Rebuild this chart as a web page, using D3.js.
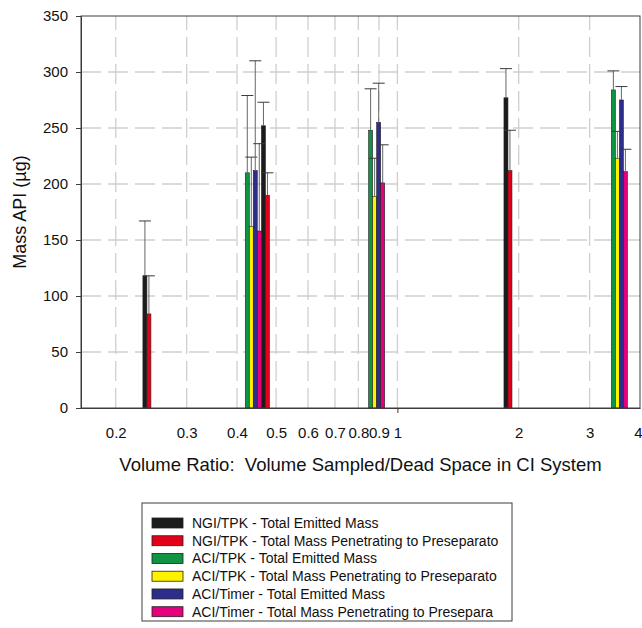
<!DOCTYPE html>
<html>
<head>
<meta charset="utf-8">
<script src="https://cdn.jsdelivr.net/npm/d3@7"></script>
<style>
  html, body { margin: 0; padding: 0; background: #fff; }
  svg { display: block; font-family: "Liberation Sans", Arial, sans-serif; }
</style>
</head>
<body>
<svg id="chart" width="642" height="628"></svg>
<script>
// Impactor setups, each measured at three volume ratios
const setups = ["NGI/TPK", "ACI/TPK", "ACI/Timer"];
const volumeRatio = {
  "NGI/TPK":   [0.239, 0.4705, 1.881],
  "ACI/TPK":   [0.429, 0.868, 3.475],
  "ACI/Timer": [0.449, 0.909, 3.638]
};

// Mass API (µg): total emitted and mass penetrating to the preseparator
const emitted = {
  "NGI/TPK":   [118, 252, 277],
  "ACI/TPK":   [210, 248, 284],
  "ACI/Timer": [212, 255, 275]
};
const emittedErr = {
  "NGI/TPK":   [49, 21, 26],
  "ACI/TPK":   [69, 37, 17],
  "ACI/Timer": [98, 35, 12]
};
const penetrating = {
  "NGI/TPK":   [84, 190, 212],
  "ACI/TPK":   [162, 189, 223],
  "ACI/Timer": [158, 201, 211]
};
const penetratingErr = {
  "NGI/TPK":   [34, 20, 36],
  "ACI/TPK":   [62, 34, 24],
  "ACI/Timer": [78, 34, 20]
};

const seriesLabels = [
  "NGI/TPK - Total Emitted Mass",
  "NGI/TPK - Total Mass Penetrating to Preseparato",
  "ACI/TPK - Total Emitted Mass",
  "ACI/TPK - Total Mass Penetrating to Preseparato",
  "ACI/Timer - Total Emitted Mass",
  "ACI/Timer - Total Mass Penetrating to Presepara"
];
const seriesColors = ["#1c1c1c", "#e2001a", "#0f9444", "#fff200", "#2e2d8c", "#e5007d"];

const xTicks = [0.2, 0.3, 0.4, 0.5, 0.6, 0.7, 0.8, 0.9, 1, 2, 3, 4];
const yTicks = [0, 50, 100, 150, 200, 250, 300, 350];

const svg = d3.select("#chart");
const plot = { left: 81, right: 640, top: 16, bottom: 408 };

const x = d3.scaleLog().domain([0.164, 4]).range([plot.left, plot.right]);
const y = d3.scaleLinear().domain([0, 350]).range([plot.bottom, plot.top]);

const gridColor = "#cfcfcf";

// dashed grid
svg.append("g").selectAll("line").data(yTicks.filter(d => d > 0 && d < 350)).join("line")
  .attr("x1", plot.left).attr("x2", plot.right)
  .attr("y1", d => y(d)).attr("y2", d => y(d))
  .attr("stroke", gridColor).attr("stroke-width", 1.3)
  .attr("stroke-dasharray", "20,7");

svg.append("g").selectAll("line").data(xTicks.filter(d => d < 4)).join("line")
  .attr("x1", d => x(d)).attr("x2", d => x(d))
  .attr("y1", plot.bottom).attr("y2", plot.top)
  .attr("stroke", gridColor).attr("stroke-width", 1.3)
  .attr("stroke-dasharray", "20,7");

// bars: each setup draws a pair (emitted | penetrating) centred on its volume ratio
const barW = 4;
const bars = [];
setups.forEach((s, si) => {
  volumeRatio[s].forEach((v, i) => {
    bars.push({ v, offset: -1, value: emitted[s][i], err: emittedErr[s][i], color: seriesColors[si * 2] });
    bars.push({ v, offset: 0, value: penetrating[s][i], err: penetratingErr[s][i], color: seriesColors[si * 2 + 1] });
  });
});

const gb = svg.append("g");
gb.selectAll("rect").data(bars).join("rect")
  .attr("x", d => x(d.v) + d.offset * barW)
  .attr("y", d => y(d.value))
  .attr("width", barW)
  .attr("height", d => y(0) - y(d.value))
  .attr("fill", d => d.color)
  .attr("stroke", "#222").attr("stroke-width", 0.6);

// positive error bars
const ge = svg.append("g").attr("stroke", "#3a3a3a").attr("stroke-width", 1);
bars.forEach(d => {
  const cx = x(d.v) + d.offset * barW + barW / 2;
  ge.append("line").attr("x1", cx).attr("x2", cx)
    .attr("y1", y(d.value)).attr("y2", y(d.value + d.err)).attr("stroke", "#666");
  ge.append("line").attr("x1", cx - 6).attr("x2", cx + 6)
    .attr("y1", y(d.value + d.err)).attr("y2", y(d.value + d.err));
});

// frame and axes
const axisColor = "#3c3c3c";
svg.append("rect")
  .attr("x", plot.left).attr("y", plot.top)
  .attr("width", plot.right - plot.left).attr("height", plot.bottom - plot.top)
  .attr("fill", "none").attr("stroke", axisColor).attr("stroke-width", 1);

const yAxis = svg.append("g").attr("transform", `translate(${plot.left},0)`)
  .call(d3.axisLeft(y).tickValues(yTicks).tickSize(5).tickPadding(8));
yAxis.select(".domain").attr("stroke", axisColor);
yAxis.selectAll(".tick line").attr("stroke", axisColor);
yAxis.selectAll(".tick text").attr("font-size", 15).attr("fill", "#111")
  .attr("font-family", "Liberation Sans, Arial, sans-serif");

const xAxis = svg.append("g").attr("transform", `translate(0,${plot.bottom})`)
  .call(d3.axisBottom(x).tickValues(xTicks).tickFormat(d3.format("~g")).tickSize(0).tickPadding(19));
xAxis.select(".domain").attr("stroke", axisColor);
xAxis.selectAll(".tick text").attr("font-size", 15).attr("fill", "#111")
  .attr("font-family", "Liberation Sans, Arial, sans-serif");
// the last label sits against the right edge of the page
xAxis.selectAll(".tick text").filter(d => d === 4).attr("text-anchor", "end").attr("x", 2);
// decade tick
xAxis.selectAll(".tick").filter(d => d === 1).append("line")
  .attr("y1", 0).attr("y2", 5).attr("stroke", axisColor);

// axis titles
svg.append("text")
  .attr("x", (plot.left + plot.right) / 2).attr("y", 471)
  .attr("text-anchor", "middle").attr("font-size", 18.5).attr("fill", "#111")
  .attr("xml:space", "preserve")
  .text("Volume Ratio:  Volume Sampled/Dead Space in CI System");

svg.append("text")
  .attr("transform", `translate(26,${(plot.top + plot.bottom) / 2}) rotate(-90)`)
  .attr("text-anchor", "middle").attr("font-size", 18).attr("fill", "#111")
  .text("Mass API (µg)");

// legend
const lg = svg.append("g");
lg.append("rect").attr("x", 142).attr("y", 503).attr("width", 370).attr("height", 118)
  .attr("fill", "#fff").attr("stroke", axisColor).attr("stroke-width", 1);
const rowY = d3.scalePoint().domain(d3.range(seriesLabels.length)).range([523, 611.7]);
const rows = lg.selectAll("g.row").data(seriesLabels).join("g").attr("class", "row")
  .attr("transform", (d, i) => `translate(0,${rowY(i)})`);
rows.append("rect").attr("x", 152).attr("y", -5).attr("width", 31).attr("height", 10)
  .attr("fill", (d, i) => seriesColors[i]).attr("stroke", "#222").attr("stroke-width", 0.8);
rows.append("text").attr("x", 192).attr("y", 0).attr("dy", "0.35em")
  .attr("font-size", 14).attr("fill", "#111").text(d => d);
</script>
</body>
</html>
